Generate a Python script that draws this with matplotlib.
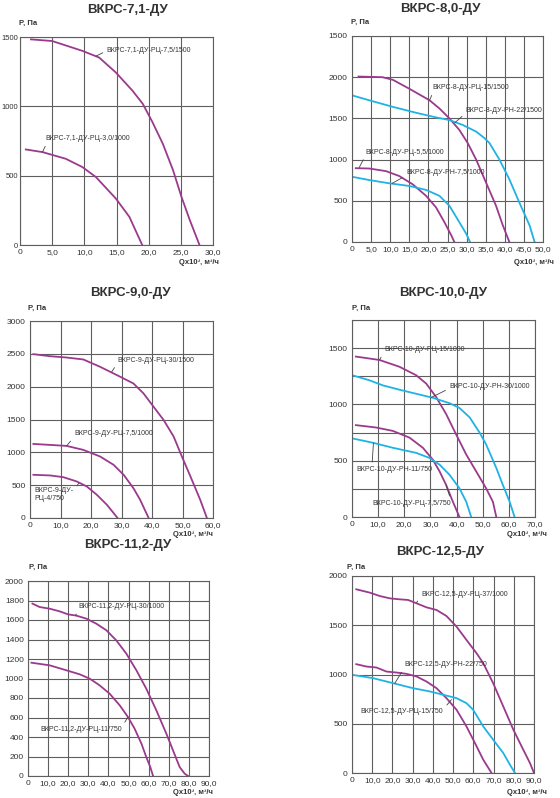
import numpy as np
import matplotlib
matplotlib.use('Agg')
import matplotlib.pyplot as plt

plt.rcParams['font.family'] = ['Liberation Sans', 'DejaVu Sans']

PURPLE = '#9b3a8c'
CYAN = '#1fb3e5'
GRID = '#5e5e5e'
TEXT = '#333333'

# ---- ВКРС-7,1-ДУ ----
q71_a = [1.7, 5.0, 9.7, 12.3, 14.9, 17.5, 19.1, 20.6, 22.2, 23.8, 25.1, 26.4, 27.9]
p71_a = [1483, 1471, 1400, 1352, 1244, 1112, 1017, 885, 730, 538, 347, 179, 0]
q71_b = [0.9, 3.5, 7.1, 9.7, 11.8, 14.9, 17.0, 19.0]
p71_b = [689, 670, 622, 562, 490, 335, 203, 0]

# ---- ВКРС-8,0-ДУ ----
q80_rc15 = [1.7, 8.0, 10.7, 15.0, 20.3, 22.9, 25.5, 28.1, 30.3, 32.5, 35.1, 37.7, 39.5, 41.2]
p80_rc15 = [2008, 2000, 1968, 1860, 1720, 1620, 1500, 1360, 1200, 1000, 720, 440, 200, 0]
q80_rn22 = [0, 4.5, 10.7, 16.8, 22.0, 25.5, 29.0, 32.5, 34.7, 36.0, 38.6, 41.2, 43.8, 46.5, 47.8]
p80_rn22 = [1780, 1720, 1640, 1568, 1512, 1480, 1420, 1340, 1260, 1200, 1000, 760, 480, 200, 0]
q80_rc55 = [1.0, 4.5, 8.9, 12.4, 15.9, 19.4, 22.0, 24.2, 26.0, 26.8]
p80_rc55 = [896, 892, 860, 800, 700, 560, 420, 240, 80, 0]
q80_rn75 = [0, 4.5, 9.8, 15.0, 19.4, 22.9, 25.5, 28.1, 29.9, 30.9]
p80_rn75 = [792, 752, 712, 680, 632, 560, 440, 240, 100, 0]

# ---- ВКРС-9,0-ДУ ----
q90_rc30 = [1.1, 6.6, 12.0, 17.5, 23.0, 28.5, 33.9, 37.2, 40.5, 43.8, 47.1, 49.8, 52.6, 55.8, 58.0]
p90_rc30 = [2495, 2464, 2444, 2414, 2302, 2176, 2049, 1898, 1695, 1493, 1240, 936, 633, 278, 0]
q90_rc75 = [1.1, 6.6, 12.0, 17.5, 23.0, 27.4, 30.7, 33.9, 36.1, 38.9]
p90_rc75 = [1128, 1113, 1098, 1037, 936, 810, 658, 455, 278, 0]
q90_rc4 = [1.1, 6.6, 10.9, 15.3, 18.6, 21.9, 25.2, 27.4, 28.7]
p90_rc4 = [658, 648, 622, 557, 481, 354, 202, 76, 0]

# ---- ВКРС-10,0-ДУ ----
q100_rc15 = [1.5, 10.5, 18.1, 24.5, 28.4, 32.2, 36.0, 39.8, 43.7, 47.5, 51.3, 53.9, 55.2]
p100_rc15 = [1425, 1395, 1335, 1260, 1185, 1065, 915, 735, 555, 405, 255, 135, 0]
q100_rn30 = [0, 6.6, 11.7, 18.1, 24.5, 30.9, 37.3, 41.1, 45.0, 48.8, 51.3, 55.2, 57.7, 60.3, 62.2]
p100_rn30 = [1260, 1215, 1170, 1131, 1095, 1059, 1011, 969, 885, 750, 645, 435, 285, 135, 0]
q100_rc75 = [1.5, 9.2, 15.6, 22.0, 27.1, 30.9, 33.5, 36.0, 38.6, 41.1]
p100_rc75 = [816, 795, 765, 705, 615, 510, 405, 285, 135, 0]
q100_rn11 = [0, 7.9, 15.6, 24.5, 29.6, 33.5, 37.3, 41.1, 43.7, 45.6]
p100_rn11 = [699, 660, 615, 570, 525, 465, 375, 255, 135, 0]

# ---- ВКРС-11,2-ДУ ----
q112_rc30 = [2.2, 5.8, 10.8, 15.7, 19.9, 24.0, 29.0, 34.0, 39.0, 43.9, 48.9, 53.9, 58.8,
             63.8, 68.8, 72.1, 75.4, 77.9, 79.6]
p112_rc30 = [1768, 1733, 1716, 1689, 1658, 1645, 1614, 1562, 1494, 1391, 1255, 1084, 896,
             674, 434, 263, 92, 24, 0]
q112_rc11 = [1.7, 10.8, 19.1, 25.7, 30.7, 35.6, 40.6, 45.6, 49.7, 53.0, 56.4, 58.8, 60.8, 62.2]
p112_rc11 = [1162, 1135, 1084, 1043, 998, 930, 844, 725, 605, 486, 332, 195, 92, 0]

# ---- ВКРС-12,5-ДУ ----
q125_rc37 = [2.1, 8.8, 13.7, 18.7, 23.6, 27.7, 31.9, 36.8, 41.8, 46.7, 51.7, 56.6, 61.6,
             64.9, 69.8, 74.8, 79.8, 84.7, 88.0, 90.0]
p125_rc37 = [1865, 1831, 1797, 1773, 1763, 1757, 1723, 1682, 1655, 1594, 1486, 1351, 1216,
             1115, 912, 676, 439, 236, 101, 0]
q125_rc15 = [2.1, 7.1, 12.1, 17.0, 22.0, 26.9, 31.9, 36.8, 41.8, 46.7, 51.7, 56.6, 60.8, 64.9, 69.0]
p125_rc15 = [1105, 1081, 1071, 1030, 1020, 1007, 980, 929, 861, 760, 642, 473, 304, 135, 0]
q125_rn22 = [0, 10.4, 20.3, 30.2, 38.5, 45.1, 51.7, 56.6, 59.9, 64.9, 69.8, 74.8, 78.1, 80.6]
p125_rn22 = [997, 963, 912, 861, 828, 794, 760, 709, 642, 473, 338, 203, 84, 0]

W, H = 560, 798
fig = plt.figure(figsize=(W / 100, H / 100), dpi=100)


def panel(l, t, r, b):
    return fig.add_axes([l / W, 1 - b / H, (r - l) / W, (b - t) / H])


def fmt_x(v):
    return '0' if v == 0 else f'{v:.1f}'.replace('.', ',')


def setup(ax, xmax, xstep, ymax, ystep, ylabels=None):
    ax.set_xlim(0, xmax)
    ax.set_ylim(0, ymax)
    xt = np.arange(0, xmax + 0.01, xstep)
    ax.set_xticks(xt)
    ax.set_xticklabels([fmt_x(v) for v in xt])
    yt = np.arange(0, ymax + 0.01, ystep)
    ax.set_yticks(yt)
    if ylabels is None:
        ylabels = [str(int(v)) for v in yt]
    ax.set_yticklabels(ylabels)
    ax.grid(True, color=GRID, lw=0.8)
    ax.set_axisbelow(True)
    ax.tick_params(length=0, labelsize=6, colors=TEXT, pad=3)
    for s in ax.spines.values():
        s.set_color(GRID)
        s.set_linewidth(0.8)


def label(ax, text, xy, xyt, rel=(0, 0.5), ha='left'):
    ax.annotate(text, xy=xy, xytext=xyt, fontsize=5, color=TEXT, ha=ha, va='center',
                arrowprops=dict(arrowstyle='-', color='#444444', lw=0.6, relpos=rel,
                                shrinkA=1, shrinkB=0))


def heads(title, tx, ty, px, py, qx, qy):
    fig.text(tx / W, 1 - ty / H, title, fontsize=9.5, fontweight='bold', color=TEXT,
             ha='center', va='center')
    fig.text(px / W, 1 - py / H, 'P, Па', fontsize=5.5, fontweight='bold', color=TEXT,
             ha='left', va='center')
    fig.text(qx / W, 1 - qy / H, 'Qx10³, м³/ч', fontsize=5.5, fontweight='bold', color=TEXT,
             ha='right', va='center')


LW = 1.3

# panel 1
ax = panel(20, 37, 213, 245)
setup(ax, 30, 5, 1500, 500)
ax.tick_params(axis='y', labelsize=5.5, pad=1.5)
ax.plot(q71_a, p71_a, color=PURPLE, lw=LW)
ax.plot(q71_b, p71_b, color=PURPLE, lw=LW)
label(ax, 'ВКРС-7,1-ДУ-РЦ-7,5/1500', (11.8, 1362), (13.5, 1400))
label(ax, 'ВКРС-7,1-ДУ-РЦ-3,0/1000', (3.5, 670), (4.0, 766), rel=(0.02, 0.1))
heads('ВКРС-7,1-ДУ', 127, 10, 19, 23, 219, 263)

# panel 2
ax = panel(352, 36, 543, 242)
setup(ax, 50, 5, 2500, 500, ['0', '500', '1000', '1500', '2000', '1500'])
ax.plot(q80_rc15, p80_rc15, color=PURPLE, lw=LW)
ax.plot(q80_rn22, p80_rn22, color=CYAN, lw=LW)
ax.plot(q80_rc55, p80_rc55, color=PURPLE, lw=LW)
ax.plot(q80_rn75, p80_rn75, color=CYAN, lw=LW)
label(ax, 'ВКРС-8-ДУ-РЦ-15/1500', (20.3, 1720), (21.0, 1870), rel=(0.02, 0.1))
label(ax, 'ВКРС-8-ДУ-РН-22/1500', (27.0, 1450), (29.8, 1600), rel=(0.0, 0.1))
label(ax, 'ВКРС-8-ДУ-РЦ-5,5/1000', (1.9, 905), (3.6, 1090), rel=(0.0, 0.1))
label(ax, 'ВКРС-8-ДУ-РН-7,5/1000', (10.5, 712), (14.2, 840), rel=(0.0, 0.1))
heads('ВКРС-8,0-ДУ', 440, 9, 351, 22, 554, 263)

# panel 3
ax = panel(30, 321, 213, 518)
setup(ax, 60, 10, 3000, 500)
ax.plot(q90_rc30, p90_rc30, color=PURPLE, lw=LW)
ax.plot(q90_rc75, p90_rc75, color=PURPLE, lw=LW)
ax.plot(q90_rc4, p90_rc4, color=PURPLE, lw=LW)
label(ax, 'ВКРС-9-ДУ-РЦ-30/1500', (26.8, 2226), (28.7, 2404), rel=(0.0, 0.1))
label(ax, 'ВКРС-9-ДУ-РЦ-7,5/1000', (12.0, 1098), (14.5, 1280), rel=(0.0, 0.1))
label(ax, 'ВКРС-9-ДУ-\nРЦ-4/750', (16.0, 530), (1.4, 354), rel=(1.0, 0.75))
heads('ВКРС-9,0-ДУ', 130, 293, 28, 308, 213, 535)

# panel 4
ax = panel(352, 320, 535, 517)
setup(ax, 70, 10, 1750, 250,
      ['0', '', '500', '', '1000', '', '1500', ''])
ax.plot(q100_rc15, p100_rc15, color=PURPLE, lw=LW)
ax.plot(q100_rn30, p100_rn30, color=CYAN, lw=LW)
ax.plot(q100_rc75, p100_rc75, color=PURPLE, lw=LW)
ax.plot(q100_rn11, p100_rn11, color=CYAN, lw=LW)
label(ax, 'ВКРС-10-ДУ-РЦ-15/1000', (10.5, 1395), (12.4, 1485), rel=(0.0, 0.2))
label(ax, 'ВКРС-10-ДУ-РН-30/1000', (30.3, 1062), (37.3, 1161), rel=(0.0, 0.2))
label(ax, 'ВКРС-10-ДУ-РН-11/750', (8.2, 658), (1.8, 420), rel=(0.2, 0.9))
label(ax, 'ВКРС-10-ДУ-РЦ-7,5/750', (36.0, 285), (7.9, 120), rel=(1.0, 0.8))
heads('ВКРС-10,0-ДУ', 443, 293, 352, 308, 547, 535)

# panel 5
ax = panel(28, 581, 209, 776)
setup(ax, 90, 10, 2000, 200)
ax.plot(q112_rc30, p112_rc30, color=PURPLE, lw=LW)
ax.plot(q112_rc11, p112_rc11, color=PURPLE, lw=LW)
label(ax, 'ВКРС-11,2-ДУ-РЦ-30/1000', (23.7, 1645), (24.9, 1740), rel=(0.0, 0.2))
label(ax, 'ВКРС-11,2-ДУ-РЦ-11/750', (49.7, 605), (46.5, 475), rel=(1.0, 0.8), ha='right')
heads('ВКРС-11,2-ДУ', 128, 545, 29, 567, 213, 792)

# panel 6
ax = panel(352, 576, 534, 773)
setup(ax, 90, 10, 2000, 500)
ax.plot(q125_rc37, p125_rc37, color=PURPLE, lw=LW)
ax.plot(q125_rc15, p125_rc15, color=PURPLE, lw=LW)
ax.plot(q125_rn22, p125_rn22, color=CYAN, lw=LW)
label(ax, 'ВКРС-12,5-ДУ-РЦ-37/1000', (31.9, 1730), (34.3, 1814), rel=(0.0, 0.2))
label(ax, 'ВКРС-12,5-ДУ-РН-22/750', (21.1, 908), (26.1, 1098), rel=(0.0, 0.2))
label(ax, 'ВКРС-12,5-ДУ-РЦ-15/750', (49.2, 745), (45.1, 625), rel=(1.0, 0.8), ha='right')
heads('ВКРС-12,5-ДУ', 440, 552, 347, 567, 547, 792)

fig.savefig('out.png', dpi=100, facecolor='white')
